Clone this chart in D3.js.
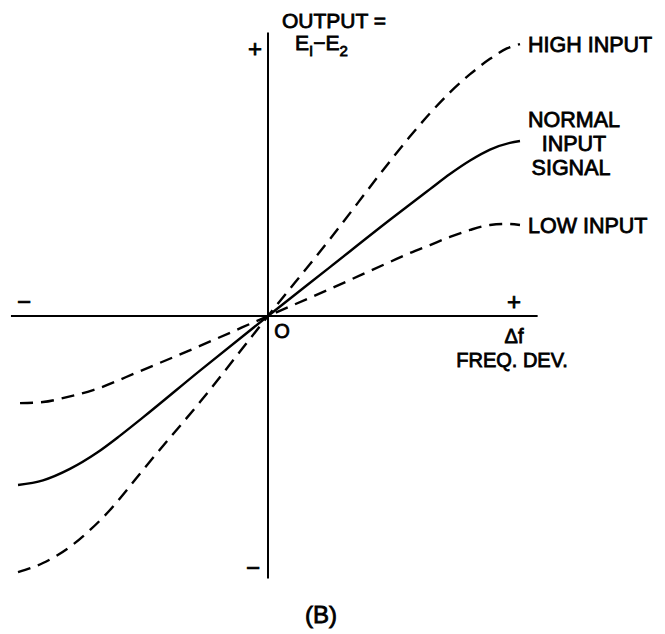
<!DOCTYPE html>
<html><head><meta charset="utf-8">
<script src="https://cdn.jsdelivr.net/npm/d3@7"></script>
<style>
html,body{margin:0;padding:0;background:#fff;}
text{font-family:"Liberation Sans",Arial,sans-serif;fill:#000;stroke:#000;stroke-width:0.8px;}
</style></head>
<body><svg id="c" width="665" height="634"></svg>
<script>
// Frequency deviation (x, % of full span) and output E1-E2 (y)
const highX   = [-99.2,-89.3,-78.6,-70.6,-62.7,-56.0,-49.6,-27.0,0,24.6,48.4,56.3,64.3,72.2,80.2,88.1,94.8,100];
const highY   = [-98.5,-95.0,-88.8,-82.3,-74.6,-66.9,-59.2,-33.1,0,29.6,59.5,69.0,78.0,86.0,93.0,98.9,102.9,104.6];
const normalX = [-99.2,-89.3,-78.6,-67.9,-58.7,-49.6,-27.0,0,24.6,48.4,56.3,64.3,72.2,80.2,88.1,96.0,100];
const normalY = [-65.0,-63.2,-58.8,-52.6,-46.0,-39.0,-21.0,0,18.8,37.0,42.9,48.8,54.6,59.8,64.0,66.6,67.3];
const lowX    = [-98.4,-89.3,-79.8,-69.4,-50.8,-27.0,0,24.6,48.4,56.3,64.3,72.2,80.2,88.1,94.8,100];
const lowY    = [-33.5,-33.1,-31.2,-28.5,-21.2,-11.5,0,10.4,20.8,24.2,27.3,30.4,33.1,35.0,35.4,35.0];
const seriesNames = ["HIGH INPUT","NORMAL INPUT SIGNAL","LOW INPUT"];
const tickLabels = {xNeg:"−", xPos:"+", yPos:"+", yNeg:"−", origin:"O"};

const svg = d3.select("#c");
const x = d3.scaleLinear().domain([-100,100]).range([16,520]);
const y = d3.scaleLinear().domain([-100,100]).range([576,56]);

// axes
svg.append("line").attr("x1",x(-102)).attr("x2",x(107)).attr("y1",y(0)).attr("y2",y(0))
  .attr("stroke","#000").attr("stroke-width",2);
svg.append("line").attr("x1",x(0)).attr("x2",x(0)).attr("y1",y(109)).attr("y2",y(-101))
  .attr("stroke","#000").attr("stroke-width",2);

const line = d3.line().x(d=>x(d[0])).y(d=>y(d[1])).curve(d3.curveMonotoneX);
const series = [
  {name:seriesNames[0], pts:d3.zip(highX,highY), dash:"13,8"},
  {name:seriesNames[1], pts:d3.zip(normalX,normalY), dash:null},
  {name:seriesNames[2], pts:d3.zip(lowX,lowY), dash:"13,8"}
];
series.forEach(s=>{
  svg.append("path").attr("d",line(s.pts)).attr("fill","none").attr("stroke","#000")
    .attr("stroke-width",2.4).attr("stroke-dasharray",s.dash);
});

function txt(t,px,py,size,anchor){
  return svg.append("text").attr("x",px).attr("y",py).attr("font-size",size)
    .attr("text-anchor",anchor||"start").text(t);
}
// series labels
txt("HIGH INPUT",528,52,21.5);
txt("NORMAL",574,127,21.5,"middle");
txt("INPUT",574,151,21.5,"middle");
txt("SIGNAL",571,175,21.5,"middle");
txt("LOW INPUT",528,233,21.5);

// y-axis title
txt("OUTPUT =",282,28,21);
const e = svg.append("text").attr("x",295).attr("y",50).attr("font-size",21);
e.append("tspan").text("E");
e.append("tspan").attr("font-size",15).attr("dy",6).text("I");
e.append("tspan").attr("dy",-6).text("−E");
e.append("tspan").attr("font-size",15).attr("dy",6).text("2");

// tick signs
txt(tickLabels.yPos,255,57,24,"middle");
txt(tickLabels.yNeg,253,576,24,"middle");
txt(tickLabels.xNeg,24,310,24,"middle");
txt(tickLabels.xPos,514,310,24,"middle");
txt(tickLabels.origin,282,338,20,"middle");

// x-axis title
txt("Δf",514,343,20,"middle");
txt("FREQ. DEV.",512,367,20,"middle");

// caption
txt("(B)",321,623,24,"middle");
</script></body></html>
